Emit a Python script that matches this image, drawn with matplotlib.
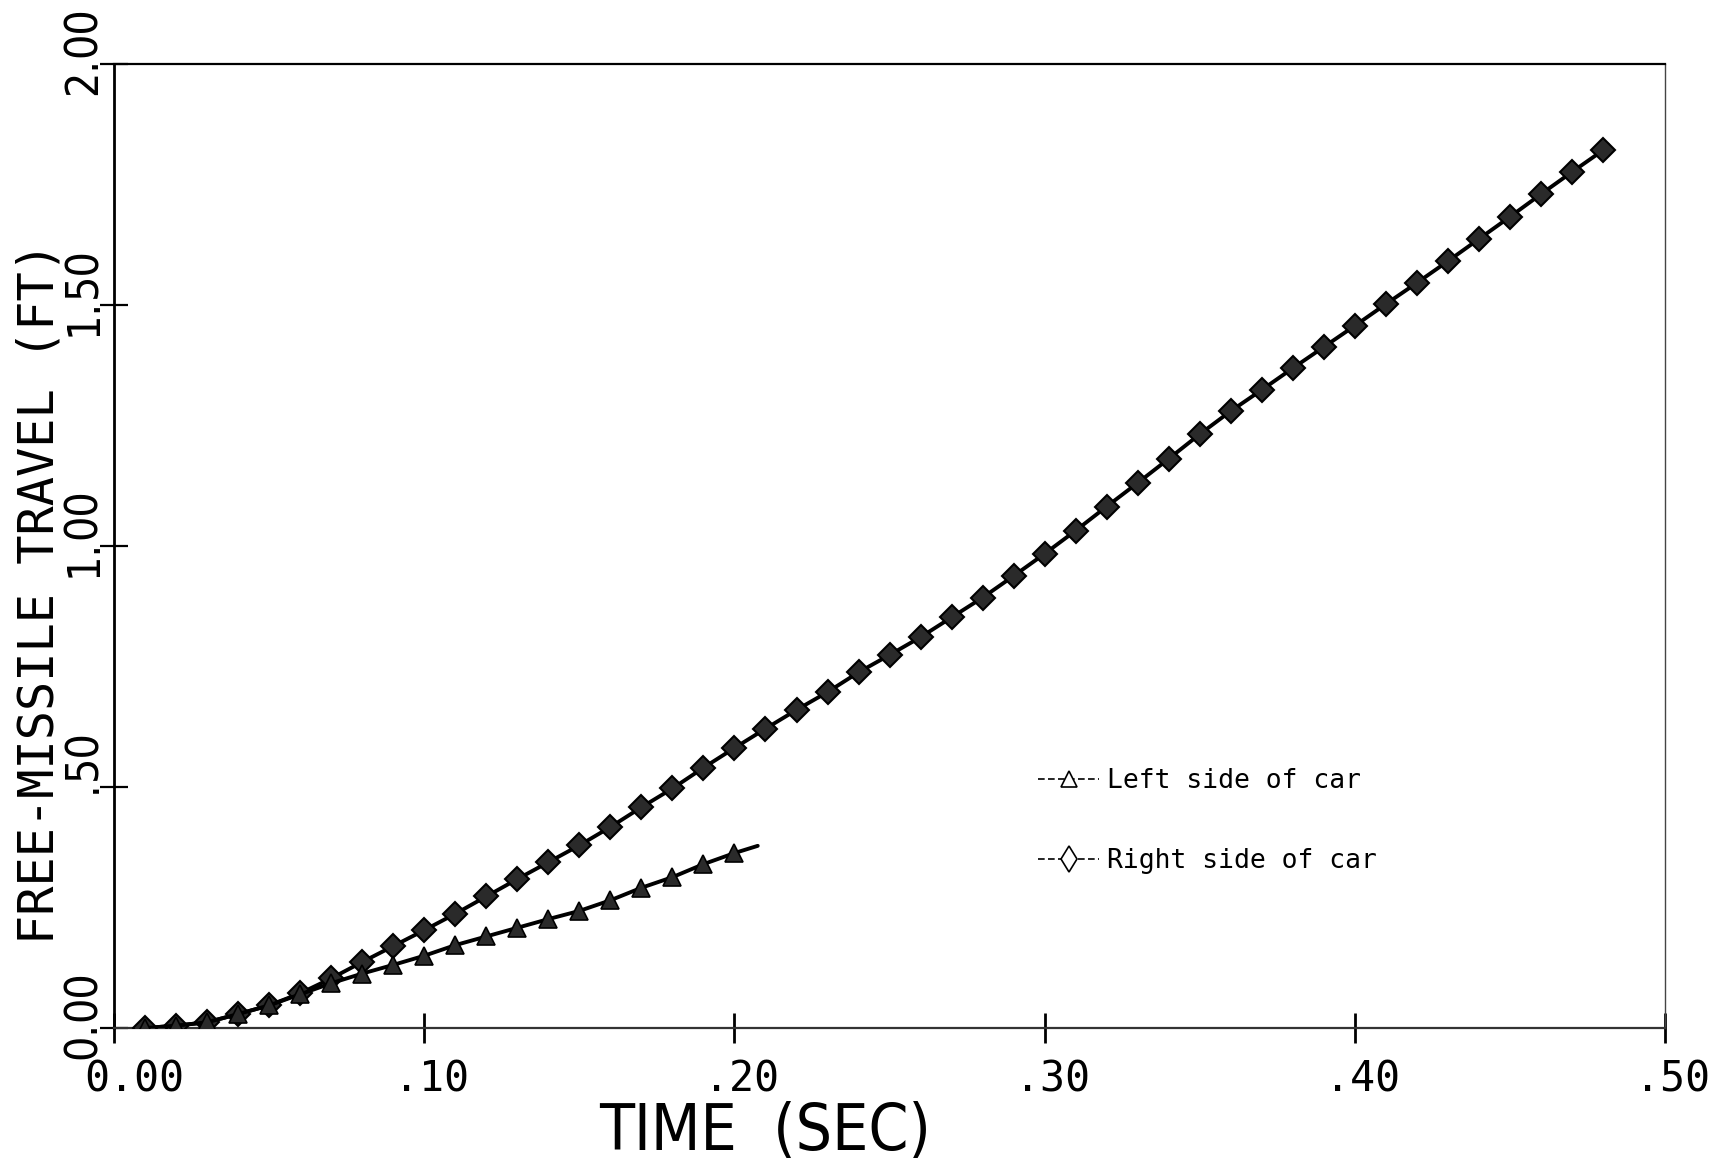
import matplotlib
matplotlib.use("Agg")
import matplotlib.pyplot as plt
from matplotlib import font_manager
from matplotlib.lines import Line2D
from matplotlib.transforms import ScaledTranslation

# ---------------- data ----------------
t_right = [0.01, 0.02, 0.03, 0.04, 0.05, 0.06, 0.07, 0.08, 0.09, 0.10,
           0.11, 0.12, 0.13, 0.14, 0.15, 0.16, 0.17, 0.18, 0.19, 0.20,
           0.21, 0.22, 0.23, 0.24, 0.25, 0.26, 0.27, 0.28, 0.29, 0.30,
           0.31, 0.32, 0.33, 0.34, 0.35, 0.36, 0.37, 0.38, 0.39, 0.40,
           0.41, 0.42, 0.43, 0.44, 0.45, 0.46, 0.47, 0.48, 0.4815]
y_right = [0.000, 0.005, 0.012, 0.029, 0.047, 0.072, 0.103, 0.137, 0.170, 0.203,
           0.237, 0.273, 0.309, 0.344, 0.379, 0.417, 0.458, 0.497, 0.540, 0.581,
           0.621, 0.660, 0.697, 0.738, 0.774, 0.811, 0.852, 0.893, 0.938, 0.984,
           1.032, 1.082, 1.131, 1.181, 1.232, 1.280, 1.324, 1.369, 1.413, 1.457,
           1.502, 1.546, 1.591, 1.637, 1.683, 1.730, 1.776, 1.821, 1.833]

t_left = [0.01, 0.02, 0.03, 0.04, 0.05, 0.06, 0.07, 0.08, 0.09, 0.10,
          0.11, 0.12, 0.13, 0.14, 0.15, 0.16, 0.17, 0.18, 0.19, 0.20, 0.2075]
y_left = [0.000, 0.005, 0.012, 0.029, 0.047, 0.070, 0.093, 0.113, 0.131, 0.150,
          0.172, 0.190, 0.208, 0.226, 0.243, 0.265, 0.291, 0.313, 0.340, 0.363, 0.378]

series_labels = ["Left side of car", "Right side of car"]

xticks = [0.0, 0.1, 0.2, 0.3, 0.4, 0.5]
xtick_labels = ["0.00", ".10", ".20", ".30", ".40", ".50"]
yticks = [0.0, 0.5, 1.0, 1.5, 2.0]
ytick_labels = ["0.00", ".50", "1.00", "1.50", "2.00"]

xlabel = "TIME  (SEC)"
ylabel = "FREE-MISSILE TRAVEL (FT)"

# ---------------- fonts ----------------
MONO = "DejaVu Sans Mono"


def find_condensed():
    for f in font_manager.fontManager.ttflist:
        name = f.name or ""
        stretch = str(f.stretch)
        if ("Mono" in name) or ("CJK" in name):
            continue
        if f.style != "normal":
            continue
        if ("Narrow" in name or "Condensed" in name or
                stretch in ("condensed", "semi-condensed", "extra-condensed")):
            w = f.weight
            if w in ("normal", "regular", 400, "book", "medium", 500):
                return font_manager.FontProperties(fname=f.fname)
    return None


COND = find_condensed()

# ---------------- figure ----------------
fig = plt.figure(figsize=(17.31, 11.64), dpi=100)
ax = fig.add_axes([0.0659, 0.1168, 0.8960, 0.8282])

n_r = len(t_right)
n_l = len(t_left)
ax.plot(t_right, y_right, color="black", lw=2.8, marker="D", ms=12.5,
        mfc="#2a2a2a", mec="black", mew=1.5, markevery=slice(0, n_r - 1),
        solid_capstyle="round", zorder=3)
ax.plot(t_left, y_left, color="black", lw=2.8, marker="^", ms=13.5,
        mfc="#2a2a2a", mec="black", mew=1.2, markevery=slice(0, n_l - 1),
        solid_capstyle="round", zorder=3)

ax.set_xlim(0, 0.5)
ax.set_ylim(0, 2.0)
ax.set_xticks(xticks)
ax.set_yticks(yticks)
ax.tick_params(axis="x", direction="inout", length=22, width=2.0,
               labelbottom=False, top=False)
ax.tick_params(axis="y", direction="inout", length=20, width=1.6,
               labelleft=False, right=False)

ax.spines["left"].set_linewidth(2.0)
ax.spines["top"].set_linewidth(1.6)
ax.spines["right"].set_linewidth(1.0)
ax.spines["right"].set_color("#444444")
ax.spines["bottom"].set_linewidth(1.6)
ax.spines["bottom"].set_color("#333333")

# x tick labels: text starts ~30 px left of the tick
xt_tr = ax.get_xaxis_transform() + ScaledTranslation(-0.30, -0.30, fig.dpi_scale_trans)
for xv, lab in zip(xticks, xtick_labels):
    ax.text(xv, 0, lab, transform=xt_tr, ha="left", va="top",
            fontsize=30, family=MONO, color="black")

# y tick labels: rotated, decimal point sitting on the tick
if COND is not None:
    yfp = COND.copy()
    yfp.set_size(32)
else:
    yfp = font_manager.FontProperties(family=MONO, size=26)
yt_tr = ax.get_yaxis_transform() + ScaledTranslation(-0.305, 0.07, fig.dpi_scale_trans)
for yv, lab in zip(yticks, ytick_labels):
    i = lab.index(".")
    pre, post = lab[:i + 1], lab[i + 1:]
    ax.text(0, yv, pre, transform=yt_tr, rotation=90, ha="center", va="top",
            fontproperties=yfp, color="black")
    ax.text(0, yv, post, transform=yt_tr, rotation=90, ha="center", va="bottom",
            fontproperties=yfp, color="black")

# axis labels
if COND is not None:
    xfp = COND.copy()
    xfp.set_size(46)
else:
    xfp = font_manager.FontProperties(family=MONO, size=40)
ax.set_xlabel(xlabel, fontproperties=xfp, va="top", ha="center")
ax.xaxis.set_label_coords(0.42, -0.076)
ax.set_ylabel(ylabel, fontsize=35, family=MONO, va="center", ha="center")
ax.yaxis.set_label_coords(-0.048, 0.451)

# legend
h_left = Line2D([], [], color="black", lw=1.2, ls=(0, (4, 2)), marker="^",
                ms=11, mfc="white", mec="black", mew=1.2)
h_right = Line2D([], [], color="black", lw=1.2, ls=(0, (4, 2)), marker="d",
                 ms=13, mfc="white", mec="black", mew=1.2)
ax.legend([h_left, h_right], series_labels, loc="upper left",
          bbox_to_anchor=(0.596, 0.270), frameon=False, borderpad=0,
          borderaxespad=0, handlelength=2.3, handletextpad=0.3,
          labelspacing=2.05, prop={"family": MONO, "size": 19})

fig.savefig("out.png", dpi=100, facecolor="white")
